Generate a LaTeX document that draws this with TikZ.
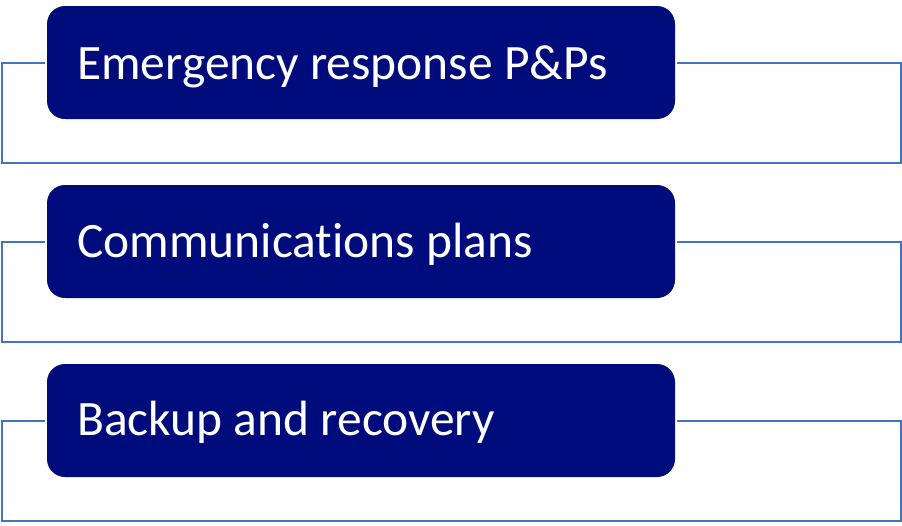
\documentclass[tikz,border=0pt]{standalone}
\usepackage{fontspec}
\setmainfont{Carlito}[Ligatures={NoCommon}]
\definecolor{navybox}{RGB}{0,12,123}
\definecolor{lineblue}{RGB}{68,114,196}
\begin{document}
\begin{tikzpicture}[x=1pt,y=-1pt,
  frame/.style={draw=lineblue, line width=2.2pt, minimum width=899pt, minimum height=100pt, inner sep=0pt, outer sep=0pt, anchor=north west},
  item/.style={preaction={draw=white, line width=4pt}, fill=navybox, rounded corners=18pt, minimum width=628pt, minimum height=113pt, inner sep=0pt, outer sep=0pt, anchor=north west},
  itemtext/.style={text=white, font=\fontsize{49.5}{60}\selectfont, inner sep=0pt, anchor=base west}]
\useasboundingbox (0,0) rectangle (902,525);
% row 1
\node[frame] (f1) at (2.3,62.7) {};
\node[item] (b1) at (47,6) {};
\node[itemtext] (t1) at (77,79) {Emergency response P\&Ps};
% row 2
\node[frame] (f2) at (2.3,241.7) {};
\node[item] (b2) at (47,185) {};
\node[itemtext] (t2) at (77,257) {Communications plans};
% row 3
\node[frame] (f3) at (2.3,420.7) {};
\node[item] (b3) at (47,364) {};
\node[itemtext] (t3) at (77,435) {Backup and recovery};
\end{tikzpicture}
\end{document}
